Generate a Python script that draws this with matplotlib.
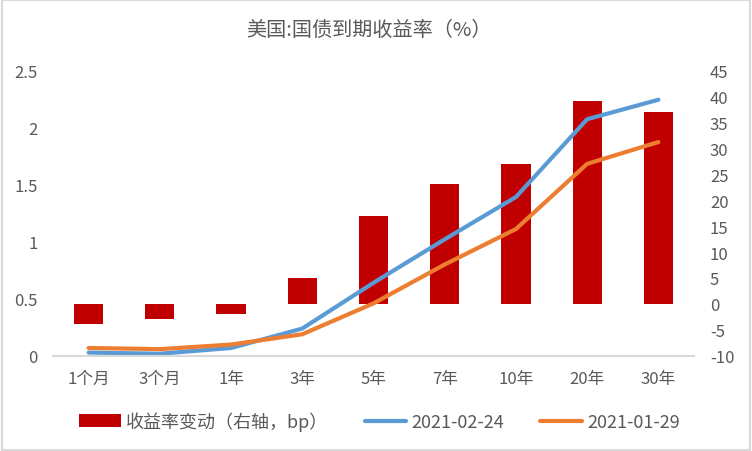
import numpy as np
import matplotlib.pyplot as plt
from matplotlib.patches import Rectangle

plt.rcParams['font.family'] = ['Noto Sans CJK SC', 'DejaVu Sans']

# Data
tenors = ["1个月", "3个月", "1年", "3年", "5年", "7年", "10年", "20年", "30年"]
yield_0224 = [0.03, 0.02, 0.07, 0.24, 0.64, 1.02, 1.39, 2.07, 2.24]
yield_0129 = [0.07, 0.06, 0.10, 0.19, 0.46, 0.80, 1.11, 1.68, 1.87]
change_bp = [-3.8, -2.9, -2.0, 5.0, 17.0, 23.0, 27.0, 39.0, 37.0]

left_ticks = [0, 0.5, 1, 1.5, 2, 2.5]
left_labels = ["0", "0.5", "1", "1.5", "2", "2.5"]
right_ticks = list(range(-10, 50, 5))

grey = "#595959"
fig = plt.figure(figsize=(7.52, 4.52), dpi=100)
fig.patches.append(Rectangle((0.002, 0.002), 0.996, 0.996, transform=fig.transFigure,
                             fill=False, edgecolor="#d9d9d9", linewidth=1.5))

ax = fig.add_axes([53 / 752, 1 - 357 / 452, 641 / 752, 286 / 452])
ax2 = ax.twinx()
x = np.arange(len(tenors))

ax2.bar(x, change_bp, width=0.41, color="#c00000", zorder=1, label="收益率变动（右轴，bp）")
ax.plot(x, yield_0224, color="#5b9bd5", lw=3, solid_capstyle="round", label="2021-02-24")
ax.plot(x, yield_0129, color="#ed7d31", lw=3, solid_capstyle="round", label="2021-01-29")

# lines drawn above bars
ax.set_zorder(ax2.get_zorder() + 1)
ax.patch.set_visible(False)

ax.set_xlim(-0.5, len(tenors) - 0.5)
ax.set_ylim(0, 2.5)
ax2.set_ylim(-10, 45)
ax.set_xticks(x)
ax.set_xticklabels(tenors, fontsize=12, color=grey)
ax.set_yticks(left_ticks)
ax.set_yticklabels(left_labels, fontsize=12, color=grey)
ax2.set_yticks(right_ticks)
ax2.set_yticklabels([str(t) for t in right_ticks], fontsize=12, color=grey)
ax.tick_params(length=0, pad=10)
ax.tick_params(axis="y", pad=11)
ax2.tick_params(length=0, pad=11.5)

for a in (ax, ax2):
    for s in a.spines.values():
        s.set_visible(False)
ax.spines["bottom"].set_visible(True)
ax.spines["bottom"].set_color("#d9d9d9")
ax.spines["bottom"].set_linewidth(1.5)

fig.text(0.49, 1 - 30 / 452, "美国:国债到期收益率（%）", ha="center", va="center",
         fontsize=14.5, color=grey)

h1, l1 = ax2.get_legend_handles_labels()
h2, l2 = ax.get_legend_handles_labels()
fig.legend(h1 + h2, l1 + l2, loc="center", bbox_to_anchor=(0.505, 1 - 422 / 452), ncol=3,
           frameon=False, fontsize=13, labelcolor=grey, handlelength=2.3,
           handletextpad=0.3, columnspacing=2.0)

plt.savefig("out.png", dpi=100)
